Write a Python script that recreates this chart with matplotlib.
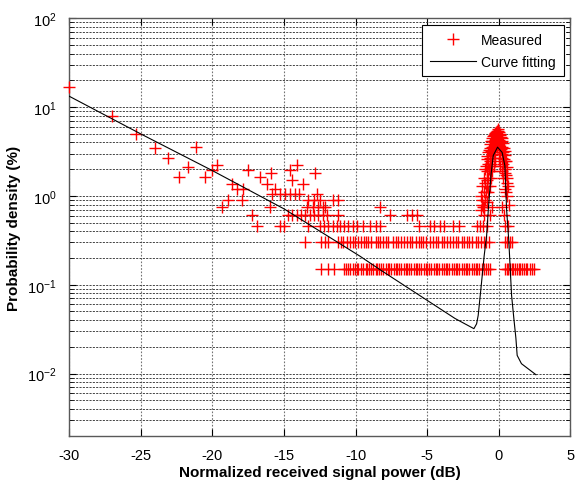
import matplotlib
matplotlib.use("Agg")
import matplotlib.pyplot as plt
import numpy as np

plt.rcParams["font.family"] = ["Liberation Sans", "DejaVu Sans"]
plt.rcParams["mathtext.fontset"] = "custom"
plt.rcParams["mathtext.rm"] = "Liberation Sans"
plt.rcParams["mathtext.it"] = "Liberation Sans:italic"
plt.rcParams["axes.unicode_minus"] = False

# fitted curve (dB, %)
fit_x = [-30, -25, -20, -15, -9.7, -8.3, -3.06, -2.37, -1.74, -1.55, -1.44, -1.25,
         -1.02, -0.85, -0.73, -0.55, -0.39, -0.09, 0.23, 0.42, 0.54, 0.70, 0.89,
         1.05, 1.19, 1.28, 1.58, 2.59]
fit_y = [13.3, 5.0, 1.93, 0.716, 0.21, 0.148, 0.0417, 0.0363, 0.032, 0.0363, 0.0452,
         0.090, 0.214, 0.359, 0.716, 1.70, 2.85, 3.54, 3.09, 2.20, 0.716, 0.302,
         0.0759, 0.0414, 0.0251, 0.016, 0.0129, 0.0097]

# measured histogram: quantised levels (%)
levels = [0.151, 0.302, 0.453, 0.604, 0.755, 0.906, 1.06]

x_lvl1 = [-12.4, -11.9, -11.5, -10.8, -10.65, -10.5, -10.4, -10.2, -10.05, -9.9, -9.8,
          -9.6, -9.45, -9.3, -9.2, -9.05, -8.9, -8.75, -8.6, -8.5, -8.35, -8.2, -8.05,
          -7.9, -7.75, -7.65, -7.5, -7.35, -7.2, -7.1, -6.95, -6.8, -6.65, -6.5, -6.4,
          -6.25, -6.1, -5.95, -5.8, -5.7, -5.55, -5.4, -5.25, -5.1, -5.0, -4.85, -4.7,
          -4.55, -4.4, -4.3, -4.15, -4.0, -3.85, -3.7, -3.6, -3.45, -3.3, -3.15, -3.0,
          -2.9, -2.75, -2.6, -2.45, -2.3, -2.2, -2.05, -1.9, -1.75, -1.6, -1.5, -1.35,
          -1.2, -1.05, -0.9, -0.75, -0.6,
          0.45, 0.55, 0.65, 0.8, 0.9, 1.0, 1.15, 1.25, 1.4, 1.5, 1.6, 1.75, 1.9, 2.0,
          2.15, 2.3, 2.45]
x_lvl2 = [-13.55, -12.4, -12.15, -11.9, -11.2, -11.0, -10.85, -10.6, -10.4, -10.2,
          -10.05, -9.8, -9.6, -9.4, -9.3, -9.1, -8.9, -8.6, -8.45, -8.3, -8.1, -7.85,
          -7.7, -7.4, -7.2, -7.05, -6.85, -6.6, -6.4, -6.2, -6.05, -5.8, -5.6, -5.45,
          -5.3, -5.05, -4.8, -4.6, -4.4, -4.25, -4.0, -3.8, -3.65, -3.4, -3.2, -3.0,
          -2.85, -2.6, -2.4, -2.2, -2.05, -1.85, -1.6, -1.45, -1.25, -1.05, -0.9, -0.7,
          0.45, 0.6, 0.75, 0.9]
x_lvl3 = [-16.9, -15.3, -15.0, -13.3, -12.5, -12.2, -11.9, -11.6, -11.3, -11.1, -10.8,
          -10.5, -10.2, -9.9, -9.5, -9.0, -8.6, -8.3, -5.6, -4.8, -4.5, -4.1, -3.8,
          -3.2, -2.8, -1.55, -1.3, -1.1, -0.85, 0.45, 0.65]
x_lvl4 = [-17.25, -14.7, -14.4, -14.1, -13.8, -13.5, -13.2, -12.9, -12.6, -12.3, -12.0,
          -11.2, -7.6, -6.4, -6.05, -5.7, -1.0, -0.6, 0.35]
x_lvl5 = [-19.3, -16.0, -13.4, -13.0, -12.6, -12.25, -12.1, -8.3, -1.1, -0.45, 0.25]
x_lvl6 = [-18.9, -17.95, -13.3, -12.9, -12.5, -11.6, -11.25, -1.2]
x_lvl7 = [-15.85, -15.3, -14.95, -14.6, -14.25, -13.95, -12.7]

# scattered upper points
up_x = [-30.0, -27.0, -25.3, -24.0, -23.1, -21.1, -22.3, -21.7, -20.5, -19.65, -20.05,
        -17.5, -16.7, -15.9, -16.2, -18.6, -18.3, -17.85, -15.6, -14.6, -14.1, -14.45,
        -13.7, -12.85]
up_y = [17.0, 8.0, 5.0, 3.45, 2.7, 3.6, 1.65, 2.1, 1.65, 2.25, 1.95,
        1.95, 1.65, 1.8, 1.35, 1.35, 1.2, 1.2, 1.2, 1.95, 2.25, 1.5,
        1.35, 1.8]

# main peak cluster
peak_x = [-1.25, -1.25, -1.15, -1.15, -1.05, -1.05, -1.05, -0.95, -0.95, -0.95,
          -0.85, -0.85, -0.85, -0.85, -0.75, -0.75, -0.75, -0.75, -0.65, -0.65, -0.65,
          -0.65, -0.55, -0.55, -0.55, -0.55, -0.45, -0.45, -0.45, -0.45, -0.35, -0.35,
          -0.35, -0.35, -0.25, -0.25, -0.25, -0.25, -0.15, -0.15, -0.15, -0.08, -0.08,
          -0.08, 0.0, 0.0, 0.0, 0.0, 0.1, 0.1, 0.1, 0.1, 0.2, 0.2, 0.2, 0.2, 0.3, 0.3,
          0.3, 0.3, 0.4, 0.4, 0.4, 0.4, 0.5, 0.5, 0.5, 0.6, 0.6, 0.7,
          -0.9, -0.9, -0.8, -0.8, -0.7, -0.7, -0.6, -0.6, -0.5, -0.5, -0.4, -0.4,
          -0.3, -0.3, -0.2, -0.2, -0.12, -0.04, 0.05, 0.05, 0.15, 0.15, 0.25, 0.25,
          0.35, 0.35, 0.45, 0.45, 0.55, 0.55, 0.65]
peak_y = [1.0, 0.7, 1.3, 0.8, 1.6, 1.1, 0.75, 2.0, 1.4, 0.9,
          2.6, 1.9, 1.3, 0.85, 3.1, 2.3, 1.6, 1.1, 3.5, 2.7, 1.9, 1.3,
          4.1, 3.2, 2.3, 1.6, 4.5, 3.6, 2.7, 1.9, 4.9, 4.0, 3.0, 2.2,
          5.1, 4.3, 3.4, 2.5, 5.4, 4.5, 3.6, 5.7, 4.8, 3.9,
          5.2, 4.3, 3.5, 2.7, 4.9, 4.0, 3.1, 2.2, 4.5, 3.6, 2.7, 1.9, 3.9, 3.1,
          2.3, 1.6, 3.2, 2.5, 1.8, 1.2, 2.5, 1.7, 1.1, 1.6, 1.0, 0.8,
          2.2, 1.1, 2.8, 1.5, 3.3, 2.0, 3.8, 2.5, 4.2, 2.9, 4.7, 3.3,
          5.0, 3.7, 5.2, 4.0, 5.0, 5.4, 5.0, 3.9, 4.6, 3.4, 4.2, 3.0,
          3.5, 2.6, 2.9, 2.0, 2.1, 1.4, 1.3]

meas_x = (x_lvl1 + x_lvl2 + x_lvl3 + x_lvl4 + x_lvl5 + x_lvl6 + x_lvl7
          + up_x + peak_x)
meas_y = ([levels[0]] * len(x_lvl1) + [levels[1]] * len(x_lvl2)
          + [levels[2]] * len(x_lvl3) + [levels[3]] * len(x_lvl4)
          + [levels[4]] * len(x_lvl5) + [levels[5]] * len(x_lvl6)
          + [levels[6]] * len(x_lvl7) + up_y + peak_y)

fig = plt.figure(figsize=(5.86, 4.85), dpi=100)
ax = fig.add_axes([0.1177, 0.0998, 0.8558, 0.8604])

ax.plot(meas_x, meas_y, "+", color="#ff0000", ms=8, mew=1.0, label="Measured",
        clip_on=False, zorder=3)
ax.plot(fit_x, fit_y, "-", color="black", lw=0.8, label="Curve fitting", zorder=4)

ax.set_yscale("log")
ax.set_xlim(-30, 5)
ax.set_ylim(2e-3, 100)
ax.set_xticks(np.arange(-30, 6, 5))
ax.set_yticks([1e-2, 1e-1, 1e0, 1e1, 1e2])

ax.grid(True, axis="y", which="both", color="0.15", linestyle=(0, (2.5, 1.5)), lw=0.6)
ax.grid(True, axis="x", which="major", color="0.45", linestyle=(0, (1.5, 1.5)), lw=0.8)
ax.set_axisbelow(True)

ax.tick_params(which="both", direction="in", top=True, right=True, labelsize=10.5)
ax.tick_params(which="major", length=5)
ax.tick_params(axis="x", which="major", pad=9)
ax.tick_params(axis="y", which="major", pad=9)
ax.tick_params(which="minor", length=3)
for s in ax.spines.values():
    s.set_color("0.35")
    s.set_linewidth(1.0)

ax.set_xlabel("Normalized received signal power (dB)", fontsize=11, fontweight="bold",
              labelpad=2)
ax.set_ylabel("Probability density (%)", fontsize=11, fontweight="bold")

leg = ax.legend(loc="upper right", fontsize=10, fancybox=False, framealpha=1,
                edgecolor="black", handlelength=3.3, handletextpad=0.4,
                labelspacing=0.55, borderpad=0.55, borderaxespad=0.5)
leg.get_frame().set_linewidth(0.8)

fig.savefig("out.png", dpi=100)
